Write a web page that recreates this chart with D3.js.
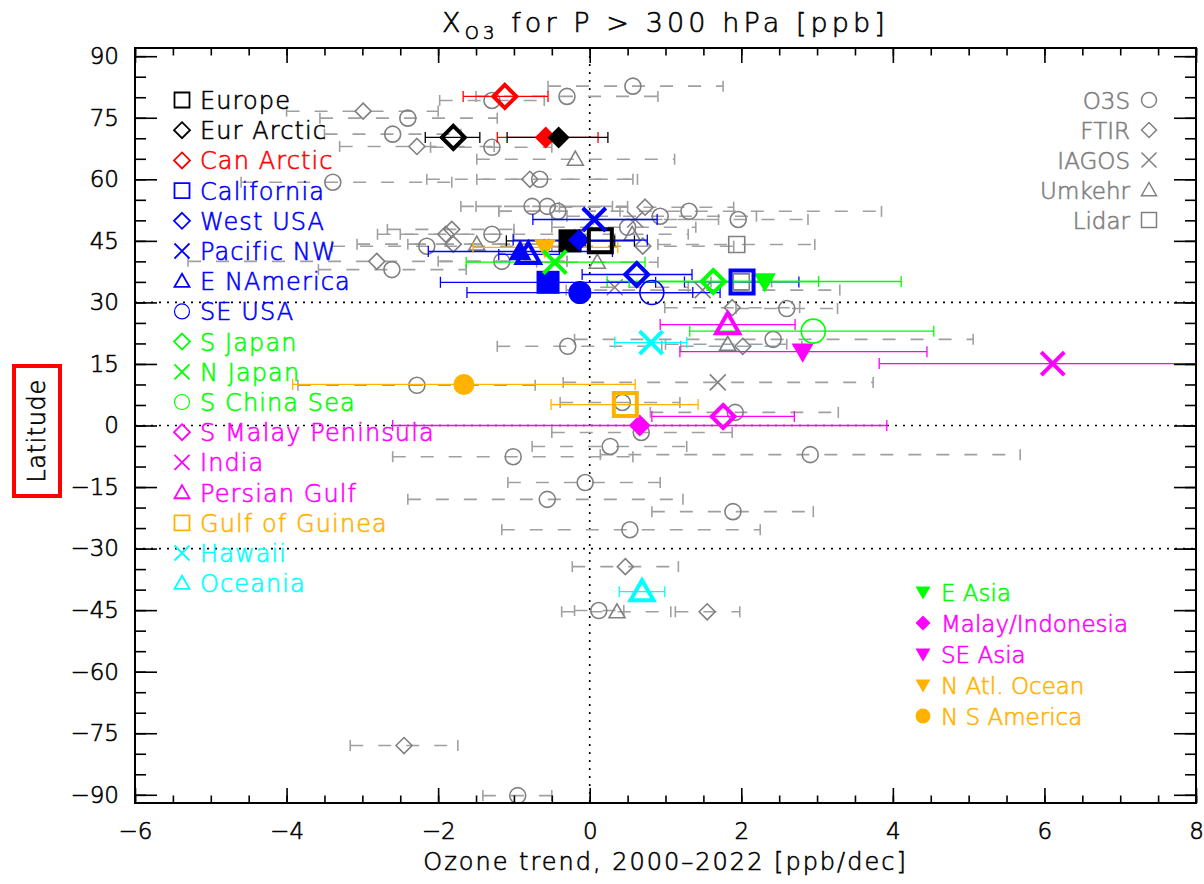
<!DOCTYPE html>
<html>
<head>
<meta charset="utf-8">
<script src="https://cdn.jsdelivr.net/npm/d3@7"></script>
<style>
  body { margin: 0; background: #fff; }
  svg { font-family: "DejaVu Sans", sans-serif; font-weight: 300; }
  text { stroke-width: 0.6px; }
</style>
</head>
<body>
<svg width="1204" height="884"></svg>
<script>
// ---------- data ----------
var xTicks = [-6, -4, -2, 0, 2, 4, 6, 8];
var yTicks = [90, 75, 60, 45, 30, 15, 0, -15, -30, -45, -60, -75, -90];

// regional trends, open symbols (same order as the left legend)
var regionNames = ["Europe", "Eur Arctic", "Can Arctic", "California", "West USA", "Pacific NW", "E NAmerica", "SE USA",
  "S Japan", "N Japan", "S China Sea", "S Malay Peninsula", "India", "Persian Gulf", "Gulf of Guinea", "Hawaii", "Oceania"];
var regionShapes = ["square", "diamond", "diamond", "square", "diamond", "cross", "triangle", "circle",
  "diamond", "cross", "circle", "diamond", "cross", "triangle", "square", "cross", "triangle"];
var regionTrend = [0.14, -1.80, -1.12, 2.01, 0.62, 0.06, -0.81, 0.82, 1.63, -0.46, 2.95, 1.76, 6.11, 1.82, 0.47, 0.81, 0.69];
var regionLat = [45.0, 70.2, 80.2, 35.0, 36.8, 50.2, 41.7, 32.4, 35.1, 39.8, 23.0, 2.2, 15.1, 24.6, 5.1, 20.2, -40.5];
var regionLow = [-0.06, -2.17, -1.67, 1.25, -0.10, -0.75, -1.20, -0.08, 0.23, -1.63, 1.32, 0.82, 3.82, 0.93, -0.51, 0.33, 0.39];
var regionHigh = [0.33, -1.45, -0.55, 2.76, 1.35, 0.89, -0.40, 1.72, 3.02, 0.73, 4.54, 2.70, 8.40, 2.71, 1.43, 1.28, 0.99];

// second estimate for some regions, filled symbols
var filledRegion = ["Can Arctic", "Eur Arctic", "Europe", "West USA", "E NAmerica", "California", "SE USA"];
var filledTrend = [-0.58, -0.41, -0.26, -0.14, -0.92, -0.55, -0.13];
var filledLat = [70.2, 70.2, 45.0, 45.2, 42.4, 34.9, 32.4];
var filledLow = [-1.22, -1.09, -1.10, -1.01, -2.13, -1.97, -1.62];
var filledHigh = [0.11, 0.24, 0.59, 0.76, 0.30, 0.87, 1.36];

// extra regions (bottom right legend)
var extraNames = ["E Asia", "Malay/Indonesia", "SE Asia", "N Atl. Ocean", "N S America"];
var extraShapes = ["triangleDown", "diamond", "triangleDown", "triangleDown", "circle"];
var extraTrend = [2.31, 0.66, 2.81, -0.59, -1.66];
var extraLat = [35.1, 0.0, 18.0, 43.4, 10.0];
var extraLow = [0.52, -2.60, 1.19, -1.54, -3.92];
var extraHigh = [4.11, 3.92, 4.45, 0.37, 0.60];

// single-site trends: [trend, lat, low, high]
var instruments = ["O3S", "FTIR", "IAGOS", "Umkehr", "Lidar"];
var instrumentShapes = ["circle", "diamond", "cross", "triangle", "square"];
var o3sSites = [
  [0.57, 82.7, -0.55, 1.76], [-0.30, 80.2, -1.50, 0.90], [-1.29, 79.2, -1.98, -0.60], [-2.40, 74.9, -3.56, -1.22],
  [-2.60, 71.0, -3.50, -1.70], [-1.29, 67.8, -2.10, -0.50], [-3.39, 59.3, -4.60, -1.82], [-0.66, 60.0, -1.49, 0.63],
  [-0.76, 53.4, -1.70, 0.30], [-0.56, 53.4, -1.50, 0.50], [-0.42, 52.2, -1.20, 0.40], [0.93, 51.0, -0.30, 2.20],
  [1.31, 52.2, -1.20, 3.85], [1.96, 50.2, 0.05, 2.88], [0.50, 48.3, -0.50, 1.40], [-2.15, 43.7, -3.40, -0.90],
  [-1.29, 46.6, -2.50, -0.10], [-1.16, 40.0, -2.00, -0.30], [-2.61, 38.0, -3.58, -1.63], [2.60, 28.5, 1.93, 3.27],
  [2.42, 21.0, -0.20, 5.06], [-0.29, 19.3, -1.22, 0.95], [-2.28, 9.8, -3.85, -0.72], [0.43, 5.6, -0.39, 1.19],
  [1.92, 3.2, 0.80, 3.28], [0.68, -1.7, -0.50, 1.88], [0.27, -5.1, -0.76, 1.28], [-1.01, -7.6, -2.60, 0.57],
  [2.91, -7.1, 0.14, 5.68], [-0.06, -13.9, -1.08, 0.93], [-0.56, -18.0, -2.40, 1.23], [1.89, -21.0, 0.82, 2.95],
  [0.53, -25.4, -1.16, 2.25], [0.12, -45.1, -0.20, 0.45], [-0.95, -90.2, -1.41, -0.50]
];
var ftirSites = [
  [-2.99, 76.6, -4.00, -2.00], [-2.28, 68.0, -3.30, -1.26], [-0.79, 60.0, -2.15, 0.57], [0.73, 53.2, -0.40, 1.90],
  [-1.82, 47.8, -2.67, -1.00], [-1.90, 46.6, -2.80, -1.00], [-1.80, 44.2, -3.07, -0.54], [-2.81, 40.0, -5.30, -0.30],
  [0.70, 43.7, -0.50, 1.90], [1.88, 28.7, 0.99, 2.77], [2.02, 19.3, 1.20, 2.80], [0.47, -34.4, -0.23, 1.17],
  [1.55, -45.4, 1.13, 1.98], [-2.45, -78.0, -3.16, -1.74]
];
var iagosSites = [[0.60, 50.2, -0.50, 1.70], [0.33, 33.7, -0.60, 1.30], [1.49, 33.0, -0.31, 3.30], [1.69, 10.5, -0.35, 3.74]];
var umkehrSites = [
  [-0.19, 64.9, -1.49, 1.12], [0.56, 46.6, -0.20, 1.30], [-1.49, 44.2, -2.40, -0.60], [0.10, 39.8, -0.70, 0.90],
  [1.82, 19.8, 1.00, 2.60], [0.36, -45.4, -0.37, 1.07]
];
var lidarSites = [[1.94, 44.1, 0.90, 2.97], [2.00, 35.0, 1.60, 2.40]];
var siteLists = [o3sSites, ftirSites, iagosSites, umkehrSites, lidarSites];

// ---------- style ----------
var regionColour = {
  "Europe": "#000000", "Eur Arctic": "#000000", "Can Arctic": "#ff0000",
  "California": "#0000ff", "West USA": "#0000ff", "Pacific NW": "#0000ff", "E NAmerica": "#0000ff", "SE USA": "#0000ff",
  "S Japan": "#00ff00", "N Japan": "#00ff00", "S China Sea": "#00ff00",
  "S Malay Peninsula": "#ff00ff", "India": "#ff00ff", "Persian Gulf": "#ff00ff",
  "Gulf of Guinea": "#ffb300", "Hawaii": "#00ffff", "Oceania": "#00ffff",
  "E Asia": "#00ff00", "Malay/Indonesia": "#ff00ff", "SE Asia": "#ff00ff", "N Atl. Ocean": "#ffb300", "N S America": "#ffb300"
};
var grey = "#808080", greyBar = "#a0a0a0";

// symbol path, r = half width
function shapePath(type, r) {
  var p = d3.path();
  if (type == "square") { p.rect(-r, -r, 2 * r, 2 * r); }
  else if (type == "diamond") { p.moveTo(0, -r); p.lineTo(r, 0); p.lineTo(0, r); p.lineTo(-r, 0); p.closePath(); }
  else if (type == "triangle") { p.moveTo(0, -r); p.lineTo(r, 0.75 * r); p.lineTo(-r, 0.75 * r); p.closePath(); }
  else if (type == "triangleDown") { p.moveTo(0, r); p.lineTo(r, -0.75 * r); p.lineTo(-r, -0.75 * r); p.closePath(); }
  else if (type == "cross") { p.moveTo(-r, -r); p.lineTo(r, r); p.moveTo(r, -r); p.lineTo(-r, r); }
  else if (type == "circle") { p.moveTo(r, 0); p.arc(0, 0, r, 0, 2 * Math.PI); p.closePath(); }
  return p.toString();
}

var svg = d3.select("svg");
var pL = 135, pR = 1196, pT = 48, pB = 803;

var x = d3.scaleLinear().domain([-6, 8]).range([pL, pR]);
var y = d3.scaleLinear().domain([-92, 92]).range([pB, pT]);

svg.append("defs").append("clipPath").attr("id", "plotclip")
  .append("rect").attr("x", pL).attr("y", pT).attr("width", pR - pL).attr("height", pB - pT);

var plot = svg.append("g").attr("clip-path", "url(#plotclip)");

// dotted reference lines
plot.append("line").attr("x1", x(0)).attr("x2", x(0)).attr("y1", pT).attr("y2", pB)
  .attr("stroke", "#000").attr("stroke-width", 1.6).attr("stroke-dasharray", "2,6");
[30, 0, -30].forEach(function (v) {
  plot.append("line").attr("x1", pL).attr("x2", pR).attr("y1", y(v)).attr("y2", y(v))
    .attr("stroke", "#000").attr("stroke-width", 1.6).attr("stroke-dasharray", "2,6");
});

function errorBar(g, lo, hi, lat, colour, dashed) {
  var yy = y(lat);
  g.append("line").attr("x1", x(lo)).attr("x2", x(hi)).attr("y1", yy).attr("y2", yy)
    .attr("stroke", colour).attr("stroke-width", dashed ? 1.6 : 1.3)
    .attr("stroke-dasharray", dashed ? "13,15" : null);
  [lo, hi].forEach(function (v) {
    g.append("line").attr("x1", x(v)).attr("x2", x(v)).attr("y1", yy - 5.5).attr("y2", yy + 5.5)
      .attr("stroke", colour).attr("stroke-width", dashed ? 1.6 : 1.3);
  });
}

// single-site (grey) points
var greyG = plot.append("g");
siteLists.forEach(function (list) {
  list.forEach(function (d) { errorBar(greyG, d[2], d[3], d[1], greyBar, true); });
});
siteLists.forEach(function (list, k) {
  greyG.selectAll(null).data(list).enter().append("path")
    .attr("transform", function (d) { return "translate(" + x(d[0]) + "," + y(d[1]) + ")"; })
    .attr("d", shapePath(instrumentShapes[k], 8))
    .attr("fill", "none").attr("stroke", grey).attr("stroke-width", 1.6);
});

// regional error bars
var colG = plot.append("g");
regionNames.forEach(function (n, i) { errorBar(colG, regionLow[i], regionHigh[i], regionLat[i], regionColour[n], false); });
filledRegion.forEach(function (n, i) { errorBar(colG, filledLow[i], filledHigh[i], filledLat[i], regionColour[n], false); });
extraNames.forEach(function (n, i) { errorBar(colG, extraLow[i], extraHigh[i], extraLat[i], regionColour[n], false); });

// filled markers
filledRegion.forEach(function (n, i) {
  var s = regionShapes[regionNames.indexOf(n)];
  colG.append("path")
    .attr("transform", "translate(" + x(filledTrend[i]) + "," + y(filledLat[i]) + ")")
    .attr("d", shapePath(s, s == "diamond" ? 11 : 11.5))
    .attr("fill", regionColour[n]);
});
extraNames.forEach(function (n, i) {
  colG.append("path")
    .attr("transform", "translate(" + x(extraTrend[i]) + "," + y(extraLat[i]) + ")")
    .attr("d", shapePath(extraShapes[i], extraShapes[i] == "circle" ? 10.5 : 11))
    .attr("fill", regionColour[n]);
});

// open regional markers
regionNames.forEach(function (n, i) {
  var s = regionShapes[i];
  colG.append("path")
    .attr("transform", "translate(" + x(regionTrend[i]) + "," + y(regionLat[i]) + ")")
    .attr("d", shapePath(s, s == "circle" ? 12 : 11.5))
    .attr("fill", "none").attr("stroke", regionColour[n])
    .attr("stroke-width", s == "circle" ? 1.6 : 4);
});

// ---------- axes ----------
function drawAxis(axis, tx, ty) {
  var g = svg.append("g").attr("transform", "translate(" + tx + "," + ty + ")").call(axis)
    .attr("font-family", null).attr("font-size", null);
  g.select(".domain").remove();
  g.selectAll(".tick line").attr("stroke", "#000").attr("stroke-width", 1.6);
  g.selectAll("text").attr("font-size", 23).attr("fill", "#000").attr("stroke", "#000");
  return g;
}
var xMinor = d3.range(-6, 8.01, 0.5);
var yMinor = d3.range(-90, 90.1, 5);
var yMajor = d3.range(-90, 90.1, 15);
var minusFmt = function (d) { return d < 0 ? "\u2212" + Math.abs(d) : d; };

drawAxis(d3.axisBottom(x).tickValues(xTicks).tickSize(-15).tickPadding(20).tickFormat(minusFmt), 0, pB);
drawAxis(d3.axisBottom(x).tickValues(xMinor).tickSize(-7.5).tickFormat(""), 0, pB);
drawAxis(d3.axisTop(x).tickValues(xTicks).tickSize(-15).tickFormat(""), 0, pT);
drawAxis(d3.axisTop(x).tickValues(xMinor).tickSize(-7.5).tickFormat(""), 0, pT);

drawAxis(d3.axisLeft(y).tickValues(yTicks).tickSize(-22).tickPadding(16).tickFormat(minusFmt), pL, 0);
drawAxis(d3.axisLeft(y).tickValues(yMinor).tickSize(-11).tickFormat(""), pL, 0);
drawAxis(d3.axisRight(y).tickValues(yMajor).tickSize(-22).tickFormat(""), pR, 0);
drawAxis(d3.axisRight(y).tickValues(yMinor).tickSize(-11).tickFormat(""), pR, 0);

svg.append("rect").attr("x", pL).attr("y", pT).attr("width", pR - pL).attr("height", pB - pT)
  .attr("fill", "none").attr("stroke", "#000").attr("stroke-width", 2);

// ---------- titles ----------
var title = svg.append("text").attr("x", (pL + pR) / 2).attr("y", 32).attr("stroke", "#000")
  .attr("text-anchor", "middle").attr("font-size", 27).attr("letter-spacing", 4.1);
title.append("tspan").text("X");
title.append("tspan").attr("font-size", 18).attr("dy", 7).text("O3");
title.append("tspan").attr("dy", -7).text(" for P > 300 hPa [ppb]");

svg.append("text").attr("x", (pL + pR) / 2).attr("y", 870).attr("text-anchor", "middle").attr("stroke", "#000")
  .attr("font-size", 24).attr("letter-spacing", 2).text("Ozone trend, 2000\u20132022 [ppb/dec]");

svg.append("rect").attr("x", 14).attr("y", 366).attr("width", 46).attr("height", 130)
  .attr("fill", "none").attr("stroke", "#ff0000").attr("stroke-width", 4);
svg.append("text").attr("transform", "translate(45,431) rotate(-90)").attr("text-anchor", "middle")
  .attr("stroke", "#000").attr("font-size", 24).attr("letter-spacing", 0.6).text("Latitude");

// ---------- legends ----------
var legL = svg.append("g");
regionNames.forEach(function (n, i) {
  var yy = 100 + i * 30.2;
  legL.append("path").attr("transform", "translate(182," + yy + ")")
    .attr("d", shapePath(regionShapes[i], regionShapes[i] == "diamond" ? 8 : 7.5))
    .attr("fill", "none").attr("stroke", regionColour[n]).attr("stroke-width", regionShapes[i] == "circle" ? 1.2 : 1.8);
  legL.append("text").attr("x", 200).attr("y", yy + 9).attr("font-size", 24).attr("letter-spacing", 1.1)
    .attr("fill", regionColour[n]).attr("stroke", regionColour[n]).text(n);
});

var legR = svg.append("g");
instruments.forEach(function (n, i) {
  var yy = 100 + i * 30;
  legR.append("path").attr("transform", "translate(1149," + yy + ")")
    .attr("d", shapePath(instrumentShapes[i], 7.5))
    .attr("fill", "none").attr("stroke", grey).attr("stroke-width", 1.5);
  legR.append("text").attr("x", 1130).attr("y", yy + 9).attr("text-anchor", "end").attr("font-size", 23)
    .attr("fill", grey).attr("stroke", grey).text(n);
});

var legB = svg.append("g");
extraNames.forEach(function (n, i) {
  var yy = 592 + i * 31;
  legB.append("path").attr("transform", "translate(923," + yy + ")")
    .attr("d", shapePath(extraShapes[i], 7.5))
    .attr("fill", regionColour[n]);
  legB.append("text").attr("x", 941).attr("y", yy + 9).attr("font-size", 23)
    .attr("fill", regionColour[n]).attr("stroke", regionColour[n]).text(n);
});
</script>
</body>
</html>
